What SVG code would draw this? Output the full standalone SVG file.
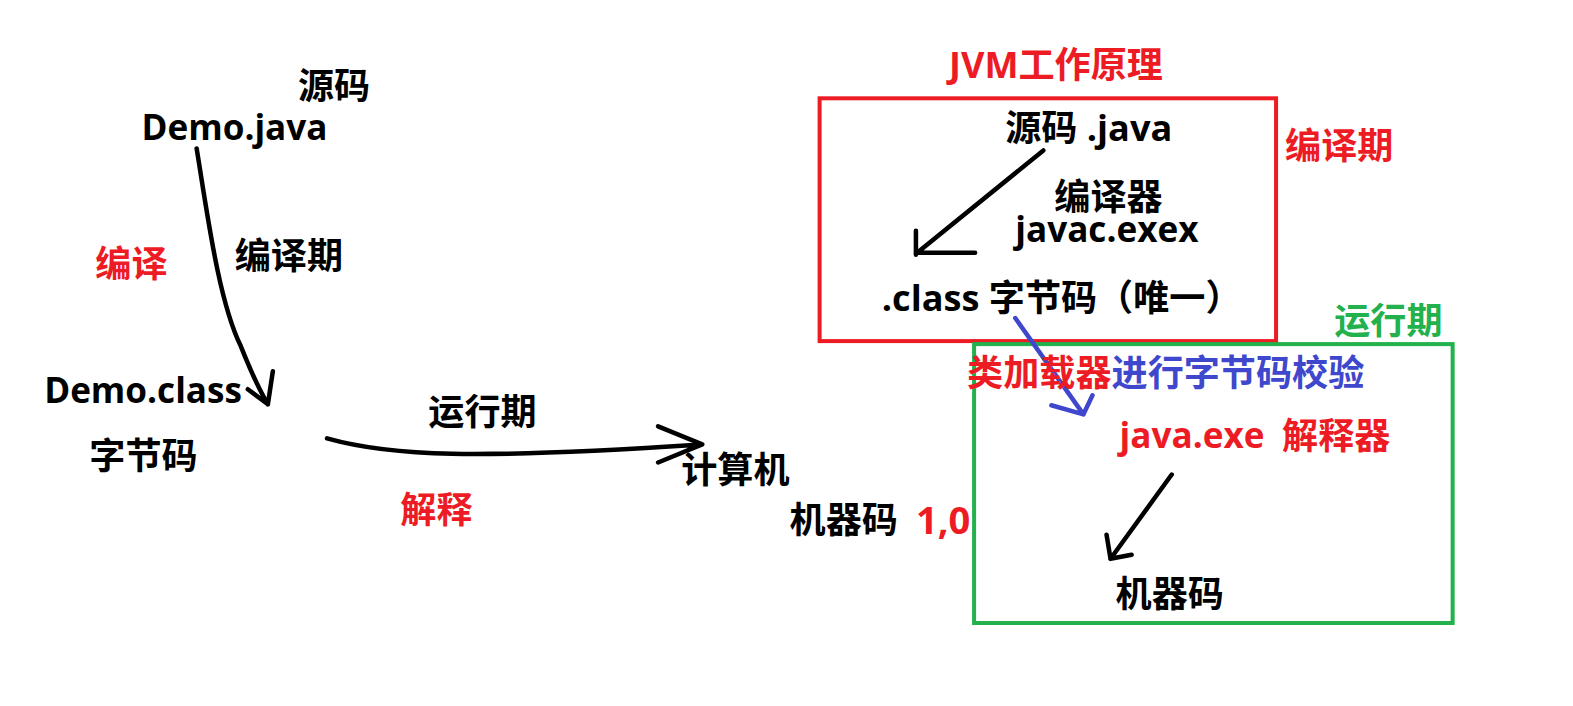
<svg xmlns="http://www.w3.org/2000/svg" width="1573" height="706" viewBox="0 0 1573 706">
<style>
text{font-family:"Open Sans","Noto Sans CJK SC",sans-serif;font-weight:bold;font-size:36px}
.l{font-size:35px}
.k{fill:#000}.r{fill:#ed1c24}.g{fill:#22b14c}.b{fill:#3f48cc}
.ln{fill:none;stroke-linecap:round;stroke-linejoin:round;stroke-width:4.5}
</style>
<rect width="1573" height="706" fill="#fff"/>
<g transform="scale(1.0032)">
<g id="frames">
<rect id="compile-box" x="817" y="98" width="455" height="242" fill="none" stroke="#ed1c24" stroke-width="4"/>
<rect id="run-box" x="971" y="343" width="477" height="278" fill="none" stroke="#22b14c" stroke-width="4"/>
</g>
<g id="connectors">
<path class="ln" stroke="#000" d="M196,148 C207,215 218,300 240,345 C250,370 258,388 267,403 M272,370 L267,403 L247,388"/>
<path class="ln" stroke="#000" d="M326,437 C390,455 470,458 700,443 M656,425 L700,443 L656,461"/>
<path class="ln" stroke="#000" d="M1040,150 L913,253 M972,252 L913,252 M913,230 L913,254"/>
<path class="ln" stroke="#3f48cc" d="M1012,317 L1080,413 M1048,404 L1080,413 L1089,394"/>
<path class="ln" stroke="#000" d="M1168,473 L1107,557 M1103,533 L1107,557 L1128,553"/>
</g>
<g id="left">
<text class="k" x="297" y="99">源码</text>
<text class="k l" x="141" y="140">Demo.java</text>
<text class="r" x="95" y="276">编译</text>
<text class="k" x="234" y="268">编译期</text>
<text class="k l" x="44" y="402">Demo.class</text>
<text class="k" x="89" y="468">字节码</text>
<text class="k" x="427" y="424">运行期</text>
<text class="r" x="399" y="521">解释</text>
<text class="k" x="679" y="481">计算机</text>
<text class="k" x="787" y="531">机器码</text>
<text class="r" x="913" y="532" style="font-size:38px">1,0</text>
</g>
<g id="jvm">
<text class="r" x="946" y="78">JVM工作原理</text>
<text class="k" x="1002" y="141">源码 .java</text>
<text class="r" x="1281" y="158">编译期</text>
<text class="k" x="1051" y="209">编译器</text>
<text class="k l" x="1012" y="241">javac.exex</text>
<text class="k" x="879" y="310">.class 字节码（唯一）</text>
<text class="g" x="1330" y="333">运行期</text>
<text x="964" y="385"><tspan class="r">类加载器</tspan><tspan class="b">进行字节码校验</tspan></text>
<text class="r l" x="1116" y="447">java.exe</text>
<text class="r" x="1278" y="448">解释器</text>
<text class="k" x="1112" y="605">机器码</text>
</g>
</g>
</svg>
